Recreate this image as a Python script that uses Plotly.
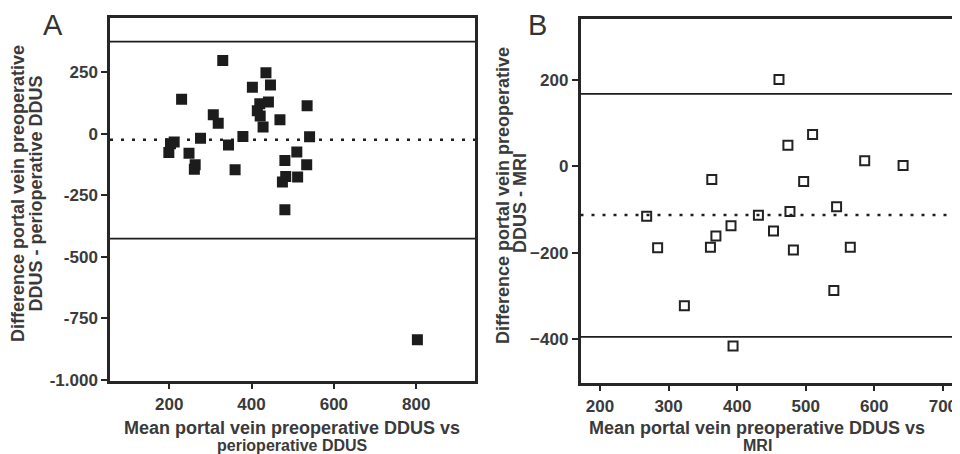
import plotly.graph_objects as go

# Panel A: mean vs difference (preoperative DDUS vs perioperative DDUS)
a_mean = [330, 435, 446, 402, 230, 535, 420, 441, 414, 421, 307, 319, 469, 428,
          541, 379, 276, 203, 212, 344, 199, 248, 510, 481, 263, 261, 360, 534,
          512, 483, 475, 481, 803]
a_diff = [298, 249, 199, 190, 141, 114, 122, 130, 94, 73, 78, 43, 57, 28,
          -12, -11, -18, -40, -33, -45, -76, -79, -74, -108, -126, -144, -146, -126,
          -175, -173, -196, -309, -837]
a_bias = -24
a_upper = 375
a_lower = -426

# Panel B: mean vs difference (preoperative DDUS vs MRI)
b_mean = [268, 284, 323, 361, 363, 369, 391, 394, 431, 453, 461, 474, 477, 482,
          497, 510, 541, 545, 565, 586, 642]
b_diff = [-115, -188, -322, -187, -30, -161, -137, -415, -113, -149, 201, 49, -104,
          -193, -35, 74, -287, -93, -187, 13, 2]
b_bias = -112
b_upper = 168
b_lower = -394

a_yticks = [250, 0, -250, -500, -750, -1000]
a_yticklabels = ["250", "0", "-250", "-500", "-750", "-1.000"]
a_xticks = [200, 400, 600, 800]
b_yticks = [200, 0, -200, -400]
b_xticks = [200, 300, 400, 500, 600, 700]

W, H = 960, 454
OFF = 8  # page body margin


def fx(xs):
    return (xs - OFF) / W


def fy(ys):
    return 1 - (ys - OFF) / H


FONT = "Liberation Sans"
AX = "#262626"
TXT = "#3a3a3a"

fig = go.Figure()
fig.add_trace(go.Scatter(x=a_mean, y=a_diff, mode="markers", xaxis="x", yaxis="y",
                         marker=dict(symbol="square", size=11, color="#1c1c1c",
                                     line=dict(width=0)), showlegend=False))
fig.add_trace(go.Scatter(x=b_mean, y=b_diff, mode="markers", xaxis="x2", yaxis="y2",
                         marker=dict(symbol="square-open", size=9, color="#222222",
                                     line=dict(width=2)), showlegend=False))

axis_common = dict(showgrid=False, zeroline=False, showline=True, linecolor=AX,
                   linewidth=2.5, ticks="outside", ticklen=6, tickwidth=2,
                   tickcolor=AX, automargin=False,
                   tickfont=dict(family=FONT, size=17, color=TXT, weight="bold"))

fig.update_layout(
    width=W, height=H, margin=dict(l=0, r=0, t=0, b=0, autoexpand=False),
    paper_bgcolor="white", plot_bgcolor="white",
    xaxis=dict(domain=[fx(110), fx(475)], range=[56, 943], anchor="y",
               tickvals=a_xticks, mirror=True, **axis_common),
    yaxis=dict(domain=[fy(380.5), fy(18.3)], range=[-1003, 470], anchor="x",
               tickvals=a_yticks, ticktext=a_yticklabels, mirror=True, **axis_common),
    xaxis2=dict(domain=[fx(580.5), fx(960)], range=[171.5, 725], anchor="y2",
                tickvals=b_xticks, mirror=True, **axis_common),
    yaxis2=dict(domain=[fy(382.7), fy(19)], range=[-500, 341], anchor="x2",
                tickvals=b_yticks, mirror=True, **axis_common),
)

# Bias and limits of agreement lines
for yv, dash, xr, yr in [(a_upper, "solid", "x", "y"), (a_lower, "solid", "x", "y"),
                         (a_bias, "3px,8px", "x", "y"),
                         (b_upper, "solid", "x2", "y2"), (b_lower, "solid", "x2", "y2"),
                         (b_bias, "3px,8px", "x2", "y2")]:
    fig.add_shape(type="line", xref=xr + " domain", yref=yr, x0=0, x1=1, y0=yv, y1=yv,
                  line=dict(color="#1e1e1e", width=2.5 if dash != "solid" else 1.8,
                            dash=dash))

annots = [
    ("Difference portal vein preoperative", 18, 194, -90, 18),
    ("DDUS - perioperative DDUS", 35.5, 194, -90, 18),
    ("Difference portal vein preoperative", 503, 196, -90, 18),
    ("DDUS - MRI", 520, 203, -90, 18),
    ("Mean portal vein preoperative DDUS vs", 292, 428, 0, 18),
    ("perioperative DDUS", 292, 445, 0, 16),
    ("Mean portal vein preoperative DDUS vs", 757, 428, 0, 18),
    ("MRI", 757, 445, 0, 16),
]
for text, xp, yp, ang, sz in annots:
    fig.add_annotation(xref="paper", yref="paper", showarrow=False, text=text,
                       x=fx(xp), y=fy(yp), textangle=ang, borderpad=0,
                       xanchor="center", yanchor="middle",
                       font=dict(family=FONT, size=sz, color=TXT, weight="bold"))

for letter, xp in [("A", 52.5), ("B", 537)]:
    fig.add_annotation(xref="paper", yref="paper", showarrow=False, text=letter,
                       x=fx(xp), y=fy(25), xanchor="center", yanchor="middle",
                       font=dict(family=FONT, size=29, color="#333333"))

fig.write_html("out.html")
